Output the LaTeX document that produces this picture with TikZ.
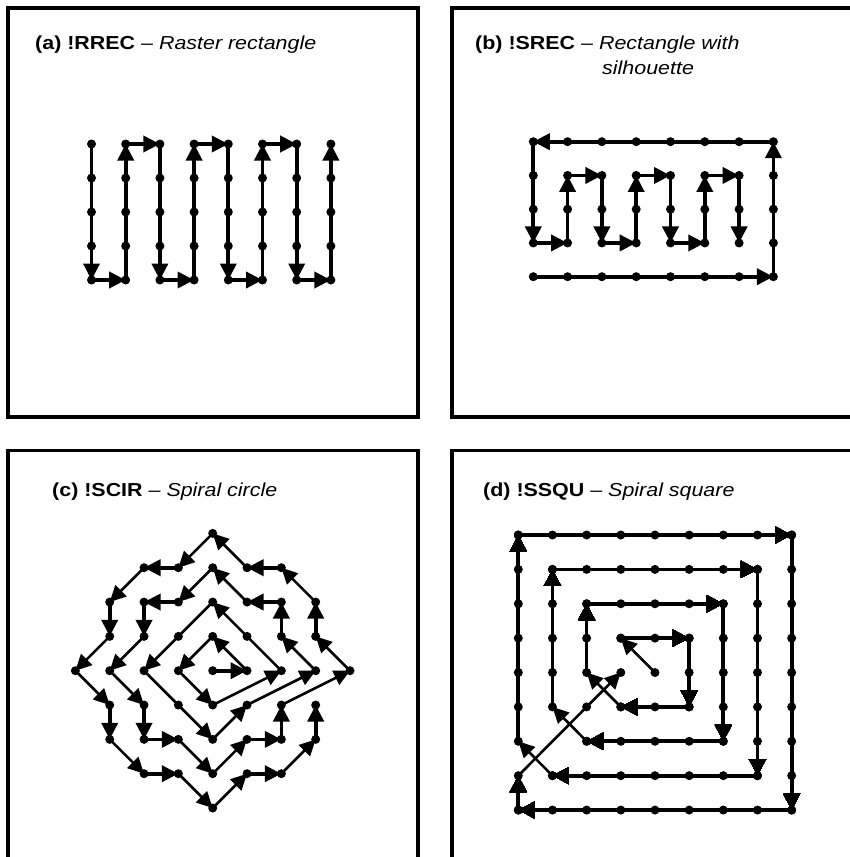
\documentclass[tikz,border=0pt]{standalone}
\usepackage{fontspec}
\setmainfont{Liberation Sans}
\usepackage{graphicx}
\usetikzlibrary{arrows.meta}
\newcommand\dotat[1]{\fill (#1) circle (4.5pt);}
\begin{document}
\begin{tikzpicture}[x=1pt,y=-1pt,
  leg/.style={line width=3.7pt,-{Triangle[length=16.5pt,width=16pt]}},
  dleg/.style={line width=2.6pt,-{Triangle[length=16pt,width=15.5pt]}},
  box/.style={line width=3.6pt},
  lbl/.style={anchor=base west,inner sep=0pt,font=\fontsize{18.8}{22}\selectfont}]
\useasboundingbox (0,0) rectangle (850,857);
\begin{scope}
  \clip (0,0) rectangle (850,857);
  \draw[box] (8,7.7) rectangle (418,417);
  \draw[box] (452,7.7) rectangle (862,417);
  \draw[box] (8,450.5) rectangle (418,870);
  \draw[box] (452,450.5) rectangle (862,870);
\end{scope}
% titles
\node[lbl] (ta) at (35,49.5) {\scalebox{1.14}[1]{\textbf{(a) !RREC} -- \textit{Raster rectangle}}};
\node[lbl] (tb) at (475,49.5) {\scalebox{1.14}[1]{\textbf{(b) !SREC} -- \textit{Rectangle with}}};
\node[lbl] (tb2) at (602,74) {\scalebox{1.14}[1]{\textit{silhouette}}};
\node[lbl] (tc) at (52,496) {\scalebox{1.14}[1]{\textbf{(c) !SCIR} -- \textit{Spiral circle}}};
\node[lbl] (td) at (483,496) {\scalebox{1.14}[1]{\textbf{(d) !SSQU} -- \textit{Spiral square}}};
% grids
\foreach \i in {0,...,7}{\foreach \j in {0,...,4}{
  \coordinate (a\i\j) at ({91.5+34.2*\i},{144+34*\j});
  \coordinate (b\i\j) at ({533.3+34.3*\i},{141.7+33.75*\j});
}}
\foreach \i in {0,...,8}{\foreach \j in {0,...,8}{
  \coordinate (c\i\j) at ({212.7+34.33*(\i-4)},{670.7+34.33*(\j-4)});
  \coordinate (d\i\j) at ({518.3+34.17*\i},{535+34.38*\j});
}}
% (a) raster rectangle
\foreach \p/\q in {a00/a04,a04/a14,a14/a10,a10/a20,a20/a24,a24/a34,a34/a30,a30/a40,
  a40/a44,a44/a54,a54/a50,a50/a60,a60/a64,a64/a74,a74/a70}
  \draw[leg] (\p) -- (\q);
% (b) rectangle with silhouette
\foreach \p/\q in {b04/b74,b74/b70,b70/b00,b00/b03,b03/b13,b13/b11,b11/b21,b21/b23,
  b23/b33,b33/b31,b31/b41,b41/b43,b43/b53,b53/b51,b51/b61,b61/b63}
  \draw[leg] (\p) -- (\q);
\foreach \i in {0,...,7}{\foreach \j in {0,...,4}{\dotat{a\i\j}\dotat{b\i\j}}}
% (c) spiral circle
\foreach \p/\q in {c44/c54,c63/c62,c62/c52,c32/c22,c22/c23,c25/c26,c26/c36,c56/c66,
  c66/c65,c73/c72,c61/c51,c31/c21,c12/c13,c15/c16,c27/c37,c57/c67,c76/c75}
  \draw[leg] (\p) -- (\q);
\foreach \p/\q in {c54/c43,c43/c34,c34/c45,c45/c64,c64/c42,c42/c24,c24/c46,c46/c55,
  c55/c74,c74/c63,c52/c41,c41/c32,c23/c14,c14/c25,c36/c47,c47/c56,c65/c84,c84/c73,
  c72/c61,c51/c40,c40/c31,c21/c12,c13/c04,c04/c15,c16/c27,c37/c48,c48/c57,c67/c76}
  \draw[dleg] (\p) -- (\q);
\foreach \p in {c44,c54,c43,c34,c45,c64,c42,c24,c46,c55,c74,c63,c62,c52,c41,c32,c22,
  c23,c14,c25,c26,c36,c47,c56,c66,c65,c84,c73,c72,c61,c51,c40,c31,c21,c12,c13,c04,
  c15,c16,c27,c37,c48,c57,c67,c76,c75,c53,c33,c35}
  \dotat{\p}
% (d) spiral square
\foreach \p/\q in {d33/d53,d53/d55,d55/d35,d24/d22,d22/d62,d62/d66,d66/d26,d15/d11,
  d11/d71,d71/d77,d77/d17,d06/d00,d00/d80,d80/d88,d88/d08,d08/d07}
  \draw[leg] (\p) -- (\q);
\foreach \p/\q in {d44/d33,d35/d24,d26/d15,d17/d06,d07/d34}
  \draw[dleg] (\p) -- (\q);
\dotat{d44}
\foreach \k in {1,2,3,4}{
  \pgfmathtruncatemacro\lo{4-\k}
  \pgfmathtruncatemacro\hi{4+\k}
  \foreach \m in {\lo,...,\hi}{
    \dotat{d\m\lo}\dotat{d\m\hi}\dotat{d\hi\m}
    \ifnum\k=3 \ifnum\m=6 \else\dotat{d\lo\m}\fi \else\dotat{d\lo\m}\fi
  }
}
\end{tikzpicture}
\end{document}
